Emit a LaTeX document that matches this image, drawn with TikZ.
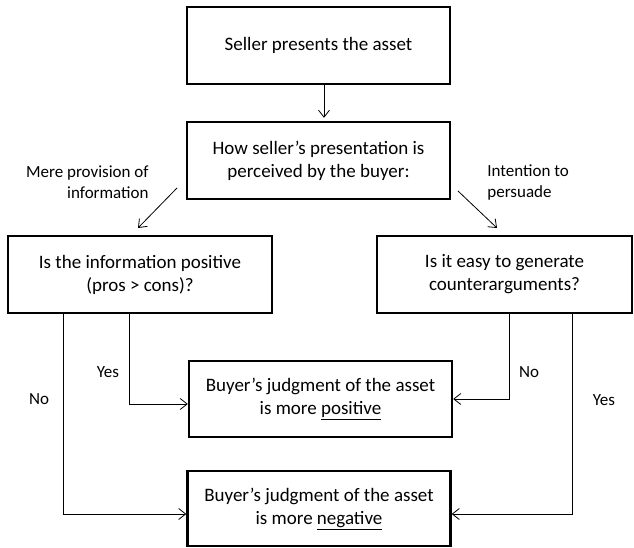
\documentclass[tikz,border=0pt]{standalone}
\usepackage{fontspec}
\setmainfont{Carlito}
\usetikzlibrary{arrows.meta}
\tikzset{
	block/.style    = {draw, line width=2.4pt, rectangle, align=center,
		minimum height = 77pt,
		minimum width = 263pt,
		font=\fontsize{19}{23}\selectfont},
	remark/.style   = {inner sep=0pt, font=\fontsize{17}{21}\selectfont},
}

\begin{document}
\begin{tikzpicture}[ x=1pt, y=-1pt,                  %<--one unit per pixel, y runs down
                       line width=0.8pt,               %<--setting line style
                       >={Straight Barb[length=7pt,width=11pt]} ]  %<--sets the arrowtype
    \useasboundingbox (0,0) rectangle (634,548);

    \draw%-----------------------------------------------------------------------------------------
    	%Drawing the Question Blocks:
    	node(seller) at (318.5,45.5) [block] {Seller presents the asset}
    	node(perceived) at (318.5,160.5) [block] {How seller’s presentation is\\perceived by the buyer:}
    	node(info) at (140,274.5) [block, minimum width=264pt] {Is the information positive\\(pros > cons)?}
    	node(counter) at (504.5,274.5) [block, minimum width=255pt] {Is it easy to generate\\counterarguments?}
    	%Drawing the Outcome Blocks:
    	node(pos) at (320.5,399) [block, minimum height=76pt] {Buyer’s judgment of the asset\\is more \underline{positive}}
    	node(neg) at (319,508.5) [block, minimum height=75pt] {Buyer’s judgment of the asset\\is more \underline{negative}}
    	%Drawing the Branch Texts:
    	node(mere) at (149,182) [remark, align=right, anchor=east] {Mere provision of\\information}
    	node(intent) at (487,182) [remark, align=left, anchor=west] {Intention to\\persuade}
    	node(yesL) at (108,372) [remark] {Yes}
    	node(noL) at (39,399) [remark] {No}
    	node(noR) at (529,372) [remark] {No}
    	node(yesR) at (604,400) [remark] {Yes}
    	%Drawing the Branch Nodes:
    	node[shape=coordinate][](infoTail) at (177,188){}
    	node[shape=coordinate][](infoHead) at (138,228){}
    	node[shape=coordinate][](counterTail) at (458,191){}
    	node[shape=coordinate][](counterHead) at (497,228){}
    	node[shape=coordinate][](infoNo) at (63,313){}
    	node[shape=coordinate][](infoYes) at (129,313){}
    	node[shape=coordinate][](counterNo) at (509,313){}
    	node[shape=coordinate][](counterYes) at (572,313){}
    ;%---------------------------------------------------------------------------------------------

    %Joining the Blocks
  	\draw[->] ([xshift=5.5pt]seller.south) -- ([xshift=5.5pt,yshift=3pt]perceived.north);
  	\draw[->] (infoTail) -- (infoHead);
  	\draw[->] (counterTail) -- (counterHead);

  	\draw[->] (infoYes) |- ([yshift=-5pt]pos.west);
  	\draw[->] (infoNo) |- ([yshift=-5.5pt]neg.west);
  	\draw[->] (counterNo) |- (pos.east);
  	\draw[->] (counterYes) |- ([yshift=-5.5pt]neg.east);
\end{tikzpicture}
\end{document}
